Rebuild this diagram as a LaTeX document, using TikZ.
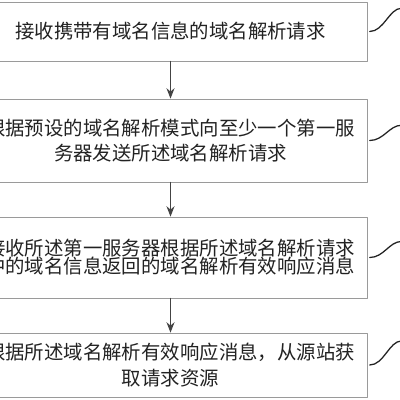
\documentclass[tikz,border=0pt]{standalone}
\usepackage{fontspec}
\newfontfamily\cjk{Noto Sans CJK SC}
\usepackage{tikz}
\usetikzlibrary{arrows.meta,calc,positioning}
\definecolor{stepink}{HTML}{222222}
\definecolor{stepline}{HTML}{9A9A9A}
\definecolor{steparrow}{HTML}{444444}

\begin{document}
\begin{tikzpicture}[>={Stealth[length=2.6mm,width=2mm]},line cap=round,line join=round,
  font=\cjk\fontsize{13.8pt}{17pt}\selectfont,text=stepink,
  stepbox/.style={draw=stepline,line width=.5pt,fill=white,align=center,
    minimum width=98.25mm,inner sep=0pt},
  arr/.style={->,line width=.7pt,steparrow},
  wave/.style={line width=.9pt,stepink}]
\path[use as bounding box] (0,0) rectangle (10,10);
\fill[white] (0,0) rectangle (10,10);
\node[stepbox,minimum height=14.75mm] (s1) at (4.2625,9.2125) {接收携带有域名信息的域名解析请求};
\node[stepbox,minimum height=20.75mm] (s2) at (4.2625,6.4875) {根据预设的域名解析模式向至少一个第一服\\[1pt]务器发送所述域名解析请求};
\node[stepbox,minimum height=20.25mm] (s3) at (4.2625,3.5625) {接收所述第一服务器根据所述域名解析请求\\[-4pt]中的域名信息返回的域名解析有效响应消息};
\node[stepbox,minimum height=16mm] (s4) at (4.2625,0.875) {根据所述域名解析有效响应消息，从源站获\\[1pt]取请求资源};
\draw[arr] (s1)--(s2);
\draw[arr] (s2)--(s3);
\draw[arr] (s3)--(s4);
% 右侧的引线
\foreach \s/\h in {s1/.58,s2/.38,s3/.4,s4/.6}{
  \coordinate (\s w) at ($(\s.east)+(.85,\h)$);
  \draw[wave] ($(\s.east)+(.06,0)$) .. controls +(.35,0) and +(-.3,0) .. (\s w);
}
\end{tikzpicture}
\end{document}
